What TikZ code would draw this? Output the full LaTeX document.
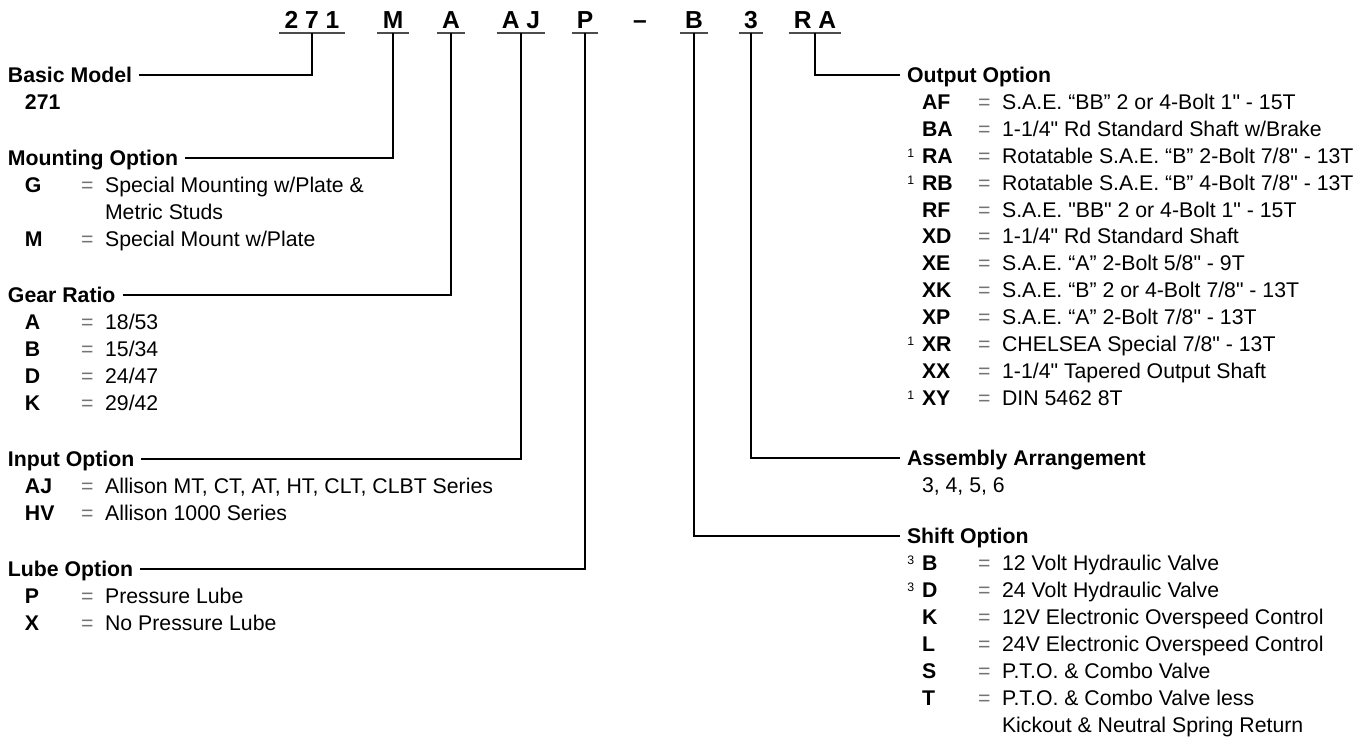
\documentclass[tikz,border=0pt]{standalone}
\usepackage{fontspec}
\setmainfont{Liberation Sans}[Ligatures=TeXOff]
\usepackage{xcolor}
\definecolor{eqgray}{gray}{0.45}
\newcommand{\supnum}[1]{\raisebox{3.6pt}{\fontsize{7}{8}\selectfont #1}}
\newcommand{\optrow}[3][]{\llap{\supnum{#1}\hspace{4.5pt}}\makebox[31.9pt][l]{\bfseries #2}\makebox[13.7pt][l]{\textcolor{eqgray}{=}}#3}

\begin{document}
\begin{tikzpicture}[
  x=0.02cm, y=-0.02cm,
  code/.style={font=\fontsize{14}{16}\selectfont\bfseries, anchor=base, text height=10pt, text depth=0pt, inner xsep=3pt, inner ysep=2.2pt, outer sep=0pt},
  head/.style={font=\fontsize{12.1}{14}\selectfont\bfseries, anchor=text, text height=8.7pt, text depth=0pt, inner xsep=4pt, inner ysep=2pt, outer sep=0pt},
  entry/.style={font=\fontsize{12.1}{14}\selectfont, anchor=text, inner sep=0pt},
  link/.style={line width=1.3pt},
  uline/.style={line width=1.2pt, black!70}
]
\useasboundingbox (0,0) rectangle (1370,742);

% model code
\node[code] (c271) at (312,29) {2 7 1};
\node[code] (cM) at (393,29) {M};
\node[code] (cA) at (451,29) {A};
\node[code] (cAJ) at (521,29) {A J};
\node[code] (cP) at (585,29) {P};
\node[code] (cdash) at (640,29) {\textendash};
\node[code] (cB) at (694,29) {B};
\node[code] (c3) at (751,29) {3};
\node[code] (cRA) at (815,29) {R A};
\foreach \c in {c271,cM,cA,cAJ,cP,cB,c3,cRA}
  \draw[uline] (\c.south west) -- (\c.south east);

% left column
\node[head] (basic) at (8,83) {Basic Model};
\node[entry] (bm271) at (25,110) {\bfseries 271};

\node[head] (mount) at (8,166) {Mounting Option};
\node[entry] (mtG) at (25,193) {\optrow{G}{Special Mounting w/Plate \&}};
\node[entry] (mtG2) at (105,220) {Metric Studs};
\node[entry] (mtM) at (25,247) {\optrow{M}{Special Mount w/Plate}};

\node[head] (gear) at (8,303) {Gear Ratio};
\node[entry] (grA) at (25,330) {\optrow{A}{18/53}};
\node[entry] (grB) at (25,357) {\optrow{B}{15/34}};
\node[entry] (grD) at (25,384) {\optrow{D}{24/47}};
\node[entry] (grK) at (25,411) {\optrow{K}{29/42}};

\node[head] (input) at (8,467) {Input Option};
\node[entry] (inAJ) at (25,494) {\optrow{AJ}{Allison MT, CT, AT, HT, CLT, CLBT Series}};
\node[entry] (inHV) at (25,521) {\optrow{HV}{Allison 1000 Series}};

\node[head] (lube) at (8,577) {Lube Option};
\node[entry] (lbP) at (25,604) {\optrow{P}{Pressure Lube}};
\node[entry] (lbX) at (25,631) {\optrow{X}{No Pressure Lube}};

% right column
\node[head] (output) at (907,83) {Output Option};
\node[entry] (opAF) at (922,110) {\optrow{AF}{S.A.E. “BB” 2 or 4-Bolt 1" - 15T}};
\node[entry] (opBA) at (922,137) {\optrow{BA}{1-1/4" Rd Standard Shaft w/Brake}};
\node[entry] (opRA) at (922,164) {\optrow[1]{RA}{Rotatable S.A.E. “B” 2-Bolt 7/8" - 13T}};
\node[entry] (opRB) at (922,191) {\optrow[1]{RB}{Rotatable S.A.E. “B” 4-Bolt 7/8" - 13T}};
\node[entry] (opRF) at (922,218) {\optrow{RF}{S.A.E. "BB" 2 or 4-Bolt 1" - 15T}};
\node[entry] (opXD) at (922,244) {\optrow{XD}{1-1/4" Rd Standard Shaft}};
\node[entry] (opXE) at (922,271) {\optrow{XE}{S.A.E. “A” 2-Bolt 5/8" - 9T}};
\node[entry] (opXK) at (922,298) {\optrow{XK}{S.A.E. “B” 2 or 4-Bolt 7/8" - 13T}};
\node[entry] (opXP) at (922,325) {\optrow{XP}{S.A.E. “A” 2-Bolt 7/8" - 13T}};
\node[entry] (opXR) at (922,352) {\optrow[1]{XR}{CHELSEA Special 7/8" - 13T}};
\node[entry] (opXX) at (922,379) {\optrow{XX}{1-1/4" Tapered Output Shaft}};
\node[entry] (opXY) at (922,406) {\optrow[1]{XY}{DIN 5462 8T}};

\node[head] (assembly) at (907,466) {Assembly Arrangement};
\node[entry] (asNum) at (922,493) {3, 4, 5, 6};

\node[head] (shift) at (907,544) {Shift Option};
\node[entry] (shB) at (922,571) {\optrow[3]{B}{12 Volt Hydraulic Valve}};
\node[entry] (shD) at (922,598) {\optrow[3]{D}{24 Volt Hydraulic Valve}};
\node[entry] (shK) at (922,625) {\optrow{K}{12V Electronic Overspeed Control}};
\node[entry] (shL) at (922,652) {\optrow{L}{24V Electronic Overspeed Control}};
\node[entry] (shS) at (922,679) {\optrow{S}{P.T.O. \& Combo Valve}};
\node[entry] (shT) at (922,706) {\optrow{T}{P.T.O. \& Combo Valve less}};
\node[entry] (shT2) at (1002,733) {Kickout \& Neutral Spring Return};

% connectors
\draw[link] (c271.south) |- (basic.east);
\draw[link] (cM.south) |- (mount.east);
\draw[link] (cA.south) |- (gear.east);
\draw[link] (cAJ.south) |- (input.east);
\draw[link] (cP.south) |- (lube.east);
\draw[link] (cB.south) |- (shift.west);
\draw[link] (c3.south) |- (assembly.west);
\draw[link] (cRA.south) |- (output.west);

\end{tikzpicture}
\end{document}
